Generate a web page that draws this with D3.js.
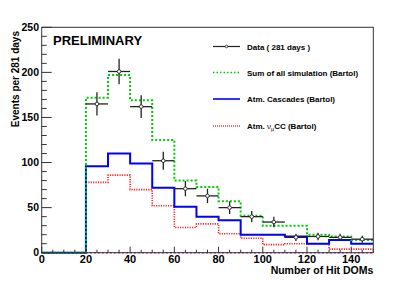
<!DOCTYPE html>
<html>
<head>
<meta charset="utf-8">
<script src="https://cdn.jsdelivr.net/npm/d3@7"></script>
<style>
  body { margin: 0; background: #fff; }
  text { font-family: "Liberation Sans", Arial, sans-serif; font-weight: bold; fill: #000; }
</style>
</head>
<body>
<svg id="chart"></svg>
<script>
const width = 415, height = 281;
const svg = d3.select("#chart").attr("width", width).attr("height", height);

// bin edges of the histograms (Number of Hit DOMs)
const binEdges = [0, 10, 20, 30, 40, 50, 60, 70, 80, 90, 100, 110, 120, 130, 140, 150];

// data points (bin centres and counts)
const dataX = [25, 35, 45, 55, 65, 75, 85, 95, 105, 115, 125, 135, 145];
const dataY = [165, 201, 162, 102, 71, 63, 50, 40, 34, 17, 18, 17, 15];

// simulated histograms, one value per bin
const sumSim   = [0, 0, 172, 197, 169, 125, 80, 73, 57, 41, 30, 30, 20, 18, 14];
const cascades = [0, 0, 96, 110, 99, 72, 51, 40, 36, 20, 20, 18, 10, 14, 10];
const numuCC   = [0, 0, 78, 86, 70, 52, 28, 32, 21, 16, 9, 10, 10, 4, 4];
const other    = [0, 0, 0, 0, 0, 0, 0, 0, 0, 0, 0, 0, 0, 0, 0];

const xTicks = [0, 20, 40, 60, 80, 100, 120, 140];
const yTicks = [0, 50, 100, 150, 200, 250];

const legendLabels = ["Data ( 281 days )", "Sum of all simulation (Bartol)", "Atm. Cascades (Bartol)", "Atm. \u03bd\u03bcCC (Bartol)"];

// frame
const fL = 41.7, fR = 373.3, fT = 27.3, fB = 252.7;
const x = d3.scaleLinear().domain([0, 150]).range([fL, fR]);
const y = d3.scaleLinear().domain([0, 250]).range([fB, fT]);

// step outline for a histogram
function stepPath(vals, start) {
  const pts = [];
  for (let i = start; i < vals.length; i++) {
    pts.push([binEdges[i], vals[i]]);
    pts.push([binEdges[i + 1], vals[i]]);
  }
  return d3.line().x(d => x(d[0])).y(d => y(d[1]))(pts);
}

const plot = svg.append("g");

plot.append("path").attr("d", stepPath(other, 2))
  .attr("fill", "none").attr("stroke", "#cc33cc").attr("stroke-width", 1.5)
  .attr("stroke-dasharray", "2,2");

plot.append("path").attr("d", stepPath(numuCC, 2))
  .attr("fill", "none").attr("stroke", "#ff2020").attr("stroke-width", 1.6)
  .attr("stroke-dasharray", "1.2,1.2");

plot.append("path").attr("d", stepPath(cascades, 0))
  .attr("fill", "none").attr("stroke", "#0000ff").attr("stroke-width", 2);

plot.append("path").attr("d", stepPath(sumSim, 0))
  .attr("fill", "none").attr("stroke", "#00cc00").attr("stroke-width", 2)
  .attr("stroke-dasharray", "2,2");

// data points with error bars
const pts = plot.selectAll("g.pt").data(dataX.map((d, i) => ({ x: d, y: dataY[i] })))
  .enter().append("g");
pts.append("line")
  .attr("x1", d => x(d.x - 5)).attr("x2", d => x(d.x + 5))
  .attr("y1", d => y(d.y)).attr("y2", d => y(d.y))
  .attr("stroke", "#222").attr("stroke-width", 1.3);
pts.append("line")
  .attr("x1", d => x(d.x)).attr("x2", d => x(d.x))
  .attr("y1", d => y(d.y - Math.sqrt(d.y))).attr("y2", d => y(d.y + Math.sqrt(d.y)))
  .attr("stroke", "#222").attr("stroke-width", 1.3);
pts.append("circle")
  .attr("cx", d => x(d.x)).attr("cy", d => y(d.y)).attr("r", 1.8)
  .attr("fill", "#fff").attr("stroke", "#222").attr("stroke-width", 0.9);

// frame box
svg.append("rect").attr("x", fL).attr("y", fT)
  .attr("width", fR - fL).attr("height", fB - fT)
  .attr("fill", "none").attr("stroke", "#333").attr("stroke-width", 1);

// x axis ticks (inside)
const xMinor = d3.range(0, 151, 5);
svg.append("g").selectAll("line").data(xMinor).enter().append("line")
  .attr("x1", d => x(d)).attr("x2", d => x(d))
  .attr("y1", fB).attr("y2", d => fB - (d % 20 === 0 ? 6 : 3))
  .attr("stroke", "#333").attr("stroke-width", 1);
svg.append("g").selectAll("text").data(xTicks).enter().append("text")
  .attr("x", d => x(d)).attr("y", 263)
  .attr("text-anchor", "middle").style("font-size", "11px")
  .text(d => d);

// y axis ticks (inside)
const yMinor = d3.range(0, 251, 10);
svg.append("g").selectAll("line").data(yMinor).enter().append("line")
  .attr("x1", fL).attr("x2", d => fL + (d % 50 === 0 ? 10 : 5))
  .attr("y1", d => y(d)).attr("y2", d => y(d))
  .attr("stroke", "#333").attr("stroke-width", 1);
svg.append("g").selectAll("text").data(yTicks).enter().append("text")
  .attr("x", 39).attr("y", d => y(d) + 3.7)
  .attr("text-anchor", "end").style("font-size", "10.5px")
  .text(d => d);

// axis titles
svg.append("text").attr("x", fR).attr("y", 274)
  .attr("text-anchor", "end").style("font-size", "10.5px")
  .text("Number of Hit DOMs");
svg.append("text")
  .attr("transform", `translate(18.5, 31) rotate(-90)`)
  .attr("text-anchor", "end").style("font-size", "10px")
  .text("Events per 281 days");

svg.append("text").attr("x", 53).attr("y", 45)
  .style("font-size", "13px").text("PRELIMINARY");

// legend
const legY = [46.5, 72.5, 99, 126];
const lg = svg.append("g");
const lx0 = 213, lx1 = 240, tx = 247;
lg.append("line").attr("x1", lx0).attr("x2", lx1).attr("y1", legY[0]).attr("y2", legY[0])
  .attr("stroke", "#222").attr("stroke-width", 1.2);
lg.append("circle").attr("cx", (lx0 + lx1) / 2).attr("cy", legY[0]).attr("r", 1.3)
  .attr("fill", "#fff").attr("stroke", "#222").attr("stroke-width", 0.8);
lg.append("line").attr("x1", lx0).attr("x2", lx1).attr("y1", legY[1]).attr("y2", legY[1])
  .attr("stroke", "#00cc00").attr("stroke-width", 1.3).attr("stroke-dasharray", "1.5,2");
lg.append("line").attr("x1", lx0).attr("x2", lx1).attr("y1", legY[2]).attr("y2", legY[2])
  .attr("stroke", "#0000ff").attr("stroke-width", 1.6);
lg.append("line").attr("x1", lx0).attr("x2", lx1).attr("y1", legY[3]).attr("y2", legY[3])
  .attr("stroke", "#ff3030").attr("stroke-width", 1.3).attr("stroke-dasharray", "1,1");

legendLabels.forEach((t, i) => {
  const el = lg.append("text").attr("x", tx).attr("y", legY[i] + 3).style("font-size", "8px");
  if (i === 3) {
    el.append("tspan").text("Atm. ");
    el.append("tspan").style("font-weight", "normal").text("\u03bd");
    el.append("tspan").attr("dy", 2).style("font-size", "5.5px").style("font-weight", "normal").text("\u03bc");
    el.append("tspan").attr("dy", -2).text("CC (Bartol)");
  } else {
    el.text(t);
  }
});
</script>
</body>
</html>
